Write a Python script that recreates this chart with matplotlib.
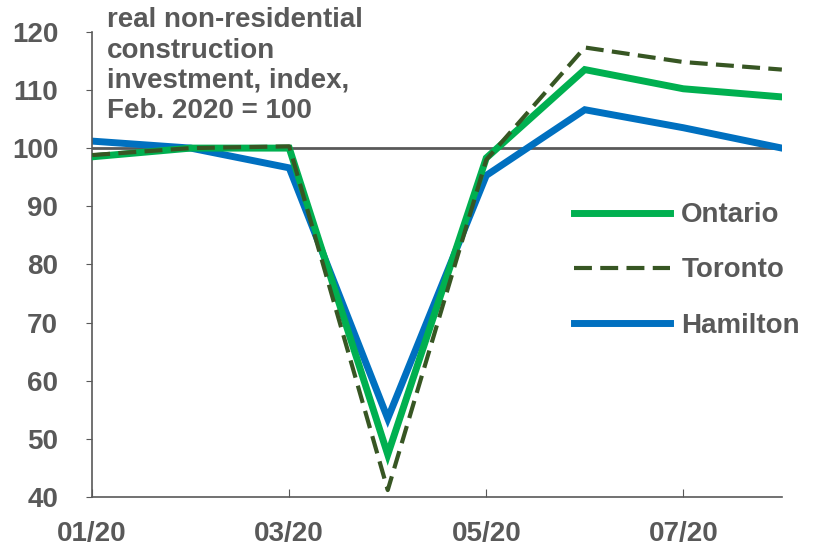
import matplotlib.pyplot as plt

months = ['01/20', '02/20', '03/20', '04/20', '05/20', '06/20', '07/20', '08/20']
ontario = [98.5, 100.0, 100.0, 47.3, 98.3, 113.5, 110.2, 108.8]
toronto = [98.8, 100.0, 100.3, 41.2, 98.0, 117.3, 114.8, 113.5]
hamilton = [101.2, 100.0, 96.6, 53.5, 95.3, 106.6, 103.5, 100.0]

grey = '#595959'
plt.rcParams['font.family'] = ['Liberation Sans', 'DejaVu Sans']
plt.rcParams['font.weight'] = 'bold'

fig = plt.figure(figsize=(8.23, 5.48), dpi=100)
ax = fig.add_axes([0.112, 0.093, 0.838, 0.849])

x = list(range(len(months)))
ax.axhline(100, color=grey, lw=2, zorder=1)
l3, = ax.plot(x, hamilton, color='#0070C0', lw=5, label='Hamilton', zorder=2, solid_joinstyle='miter')
l1, = ax.plot(x, ontario, color='#00B050', lw=5, label='Ontario', zorder=3, solid_joinstyle='miter')
l2, = ax.plot(x, toronto, color='#375623', lw=3, ls=(0, (4.3, 2)), label='Toronto', zorder=4)

ax.set_xlim(0, 7)
ax.set_ylim(40, 120)
ax.set_yticks(range(40, 121, 10))
ax.set_xticks([0, 2, 4, 6])
ax.set_xticklabels([months[i] for i in [0, 2, 4, 6]])

for s in ['top', 'right']:
    ax.spines[s].set_visible(False)
for s in ['left', 'bottom']:
    ax.spines[s].set_color(grey)
    ax.spines[s].set_linewidth(1.2)
ax.tick_params(axis='y', direction='out', length=4.5, color=grey, labelcolor=grey, labelsize=20, pad=20)
ax.tick_params(axis='x', direction='in', length=6, color=grey, labelcolor=grey, labelsize=20, pad=17)

ax.text(0.022, 1.053, 'real non-residential\nconstruction\ninvestment, index,\nFeb. 2020 = 100',
        transform=ax.transAxes, ha='left', va='top', color=grey, fontsize=20,
        fontweight='bold', linespacing=1.22)

leg = ax.legend(handles=[l1, l2, l3], loc='center left', bbox_to_anchor=(0.663, 0.487),
                frameon=False, fontsize=20, handlelength=3.45, labelspacing=1.05,
                handletextpad=0.4)
for t in leg.get_texts():
    t.set_color(grey)

fig.savefig('out.png', dpi=100)
